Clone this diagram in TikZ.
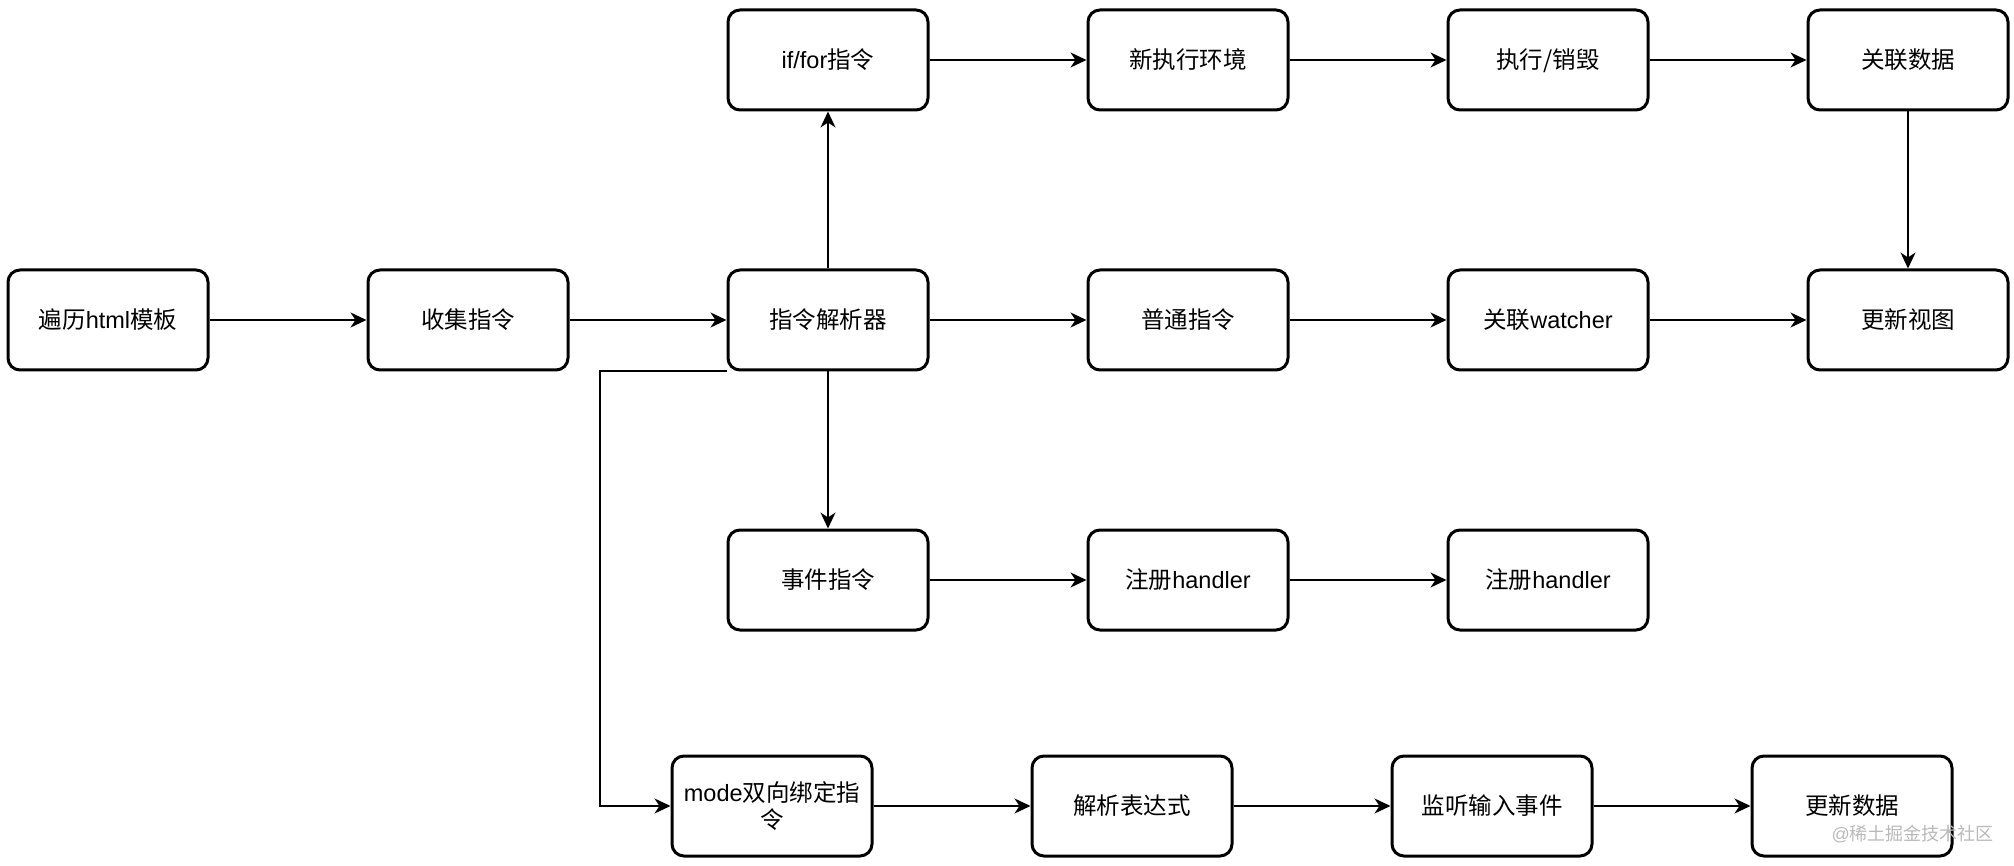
\documentclass[tikz,border=0pt]{standalone}
\usepackage{fontspec}
\setmainfont{Liberation Sans}
\newfontfamily\cjk{Noto Sans CJK SC}
\newcommand\zhtxt[1]{{\cjk #1}}
\usetikzlibrary{arrows.meta,calc}
\begin{document}
\begin{tikzpicture}[x=1pt,y=-1pt,
  box/.style={draw,line width=3pt,rounded corners=12pt,minimum width=200pt,minimum height=100pt,
    align=center,font=\fontsize{23.5}{27}\selectfont,inner sep=2pt,text depth=2pt},
  conn/.style={line width=2pt,-{Stealth[length=16pt,width=15pt,inset=5pt]}},
  wm/.style={text=gray!55,font=\fontsize{18}{20}\selectfont,anchor=west}]
\useasboundingbox (0,0) rectangle (2014,866);
% row 0
\node[box] (t0) at (828,60) {if/for\zhtxt{指令}};
\node[box] (t1) at (1188,60) {\zhtxt{新执行环境}};
\node[box] (t2) at (1548,60) {\zhtxt{执行/销毁}};
\node[box] (t3) at (1908,60) {\zhtxt{关联数据}};
% row 1
\node[box] (a) at (108,320) {\zhtxt{遍历}html\zhtxt{模板}};
\node[box] (b) at (468,320) {\zhtxt{收集指令}};
\node[box] (p) at (828,320) {\zhtxt{指令解析器}};
\node[box] (n1) at (1188,320) {\zhtxt{普通指令}};
\node[box] (n2) at (1548,320) {\zhtxt{关联}watcher};
\node[box] (n3) at (1908,320) {\zhtxt{更新视图}};
% row 2
\node[box] (e0) at (828,580) {\zhtxt{事件指令}};
\node[box] (e1) at (1188,580) {\zhtxt{注册}handler};
\node[box] (e2) at (1548,580) {\zhtxt{注册}handler};
% row 3
\node[box] (m0) at (772,806) {mode\zhtxt{双向绑定指}\\\zhtxt{令}};
\node[box] (m1) at (1132,806) {\zhtxt{解析表达式}};
\node[box] (m2) at (1492,806) {\zhtxt{监听输入事件}};
\node[box] (m3) at (1852,806) {\zhtxt{更新数据}};
% connectors
\draw[conn] (t0) -- (t1);
\draw[conn] (t1) -- (t2);
\draw[conn] (t2) -- (t3);
\draw[conn] (a) -- (b);
\draw[conn] (b) -- (p);
\draw[conn] (p) -- (n1);
\draw[conn] (n1) -- (n2);
\draw[conn] (n2) -- (n3);
\draw[conn] (p) -- (t0);
\draw[conn] (p) -- (e0);
\draw[conn] (t3) -- (n3);
\draw[conn] (e0) -- (e1);
\draw[conn] (e1) -- (e2);
\draw[conn] (p.south west) -- ++(-127,0) |- (m0.west);
\draw[conn] (m0) -- (m1);
\draw[conn] (m1) -- (m2);
\draw[conn] (m2) -- (m3);
% watermark
\node[wm] (w) at (1828,834) {@\zhtxt{稀土掘金技术社区}};
\end{tikzpicture}
\end{document}
